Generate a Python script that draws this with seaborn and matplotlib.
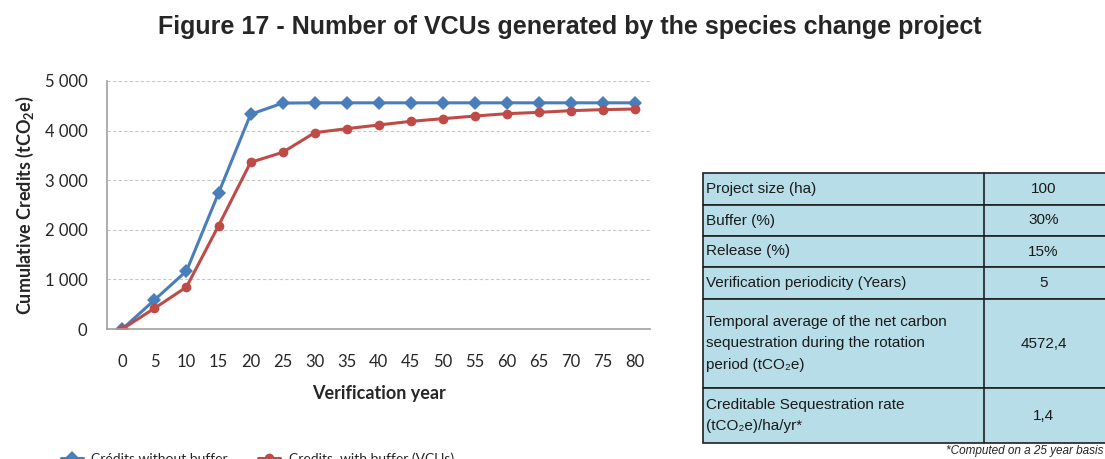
import numpy as np
import pandas as pd
import matplotlib
matplotlib.use('Agg')
import matplotlib.pyplot as plt
import seaborn as sns
from matplotlib.patches import Rectangle
from matplotlib.ticker import FuncFormatter

# data
years = [0, 5, 10, 15, 20, 25, 30, 35, 40, 45, 50, 55, 60, 65, 70, 75, 80]
without_buffer = [0, 585, 1169, 2742, 4328, 4555, 4560, 4560, 4560, 4560,
                  4560, 4560, 4560, 4560, 4560, 4560, 4560]
with_buffer = [0, 417, 847, 2083, 3360, 3562, 3958, 4039, 4113, 4187,
               4240, 4294, 4341, 4368, 4402, 4423, 4435]
series_names = ['Crédits without buffer', 'Credits  with buffer (VCUs)']
colors = ['#4A7EBB', '#BE4B48']

table_labels = ['Project size (ha)', 'Buffer (%)', 'Release (%)',
                'Verification periodicity (Years)',
                'Temporal average of the net carbon\nsequestration during the rotation\nperiod (tCO\u2082e)',
                'Creditable Sequestration rate\n(tCO\u2082e)/ha/yr*']
table_values = ['100', '30%', '15%', '5', '4572,4', '1,4']

sns.set_style('white')
plt.rcParams['font.family'] = ['Lato', 'DejaVu Sans']
plt.rcParams['mathtext.default'] = 'regular'

df = pd.DataFrame({
    'year': years * 2,
    'credits': without_buffer + with_buffer,
    'series': [series_names[0]] * len(years) + [series_names[1]] * len(years),
})

W, H = 1105, 459
fig = plt.figure(figsize=(W / 100, H / 100), dpi=100)
ax = fig.add_axes([107 / W, 1 - 329 / H, (650 - 107) / W, (329 - 81) / H])

sns.lineplot(data=df, x='year', y='credits', hue='series', style='series',
             palette=dict(zip(series_names, colors)),
             markers={series_names[0]: 'D', series_names[1]: 'o'},
             dashes=False, markersize=7, linewidth=2.2, markeredgewidth=0,
             ax=ax)

ax.set_xlim(-2.4, 82.3)
ax.set_ylim(0, 5000)
ax.set_xticks(years)
ax.set_yticks(range(0, 5001, 1000))
ax.yaxis.set_major_formatter(FuncFormatter(lambda v, p: f'{int(v):,}'.replace(',', ' ')))
ax.tick_params(axis='both', labelsize=12, length=0)
ax.tick_params(axis='x', pad=18)
ax.tick_params(axis='y', pad=14)
for v in range(1000, 5001, 1000):
    ax.axhline(v, color='#C8C8C8', lw=0.8, ls=(0, (3, 2)), zorder=0)
for s in ['top', 'right']:
    ax.spines[s].set_visible(False)
for s in ['left', 'bottom']:
    ax.spines[s].set_color('#A0A0A0')
    ax.spines[s].set_linewidth(1.2)
ax.set_xlabel('Verification year', fontsize=13, fontweight='bold', labelpad=11)
ax.set_ylabel('Cumulative Credits (tCO$_2$e)', fontsize=13, fontweight='bold', labelpad=6)

handles, labels = ax.get_legend_handles_labels()
ax.get_legend().remove()
fig.legend(handles, labels, loc='center left', bbox_to_anchor=(48 / W, 0.0),
           ncol=2, frameon=False, fontsize=10, columnspacing=2.2,
           handlelength=1.6, handletextpad=0.6)

fig.text(570 / W, 1 - 27 / H, 'Figure 17 - Number of VCUs generated by the species change project',
         ha='center', va='center', fontsize=18, fontweight='bold',
         family=['Liberation Sans', 'DejaVu Sans'])

# parameter table on the right
tax = fig.add_axes([0, 0, 1, 1])
tax.set_xlim(0, W)
tax.set_ylim(H, 0)
tax.axis('off')
row_edges = [173, 205, 236, 267, 299, 388, 443]
x0, xmid, x1 = 703, 984, 1112
for i, (lab, val) in enumerate(zip(table_labels, table_values)):
    top, bot = row_edges[i], row_edges[i + 1]
    tax.add_patch(Rectangle((x0, top), x1 - x0, bot - top, facecolor='#B7DDE8',
                            edgecolor='#202020', lw=1.2))
    tax.plot([xmid, xmid], [top, bot], color='#202020', lw=1.2)
    yc = (top + bot) / 2
    tax.text(x0 + 3, yc, lab, ha='left', va='center', fontsize=11, linespacing=1.7,
             family=['Liberation Sans', 'DejaVu Sans'], color='#1A1A1A')
    tax.text((xmid + 1103) / 2, yc, val, ha='center', va='center', fontsize=11,
             family=['Liberation Sans', 'DejaVu Sans'], color='#1A1A1A')
tax.text(1103, 451, '*Computed on a 25 year basis', ha='right', va='center',
         fontsize=8.5, style='italic', family=['Liberation Sans', 'DejaVu Sans'])

fig.savefig('out.png', dpi=100)
